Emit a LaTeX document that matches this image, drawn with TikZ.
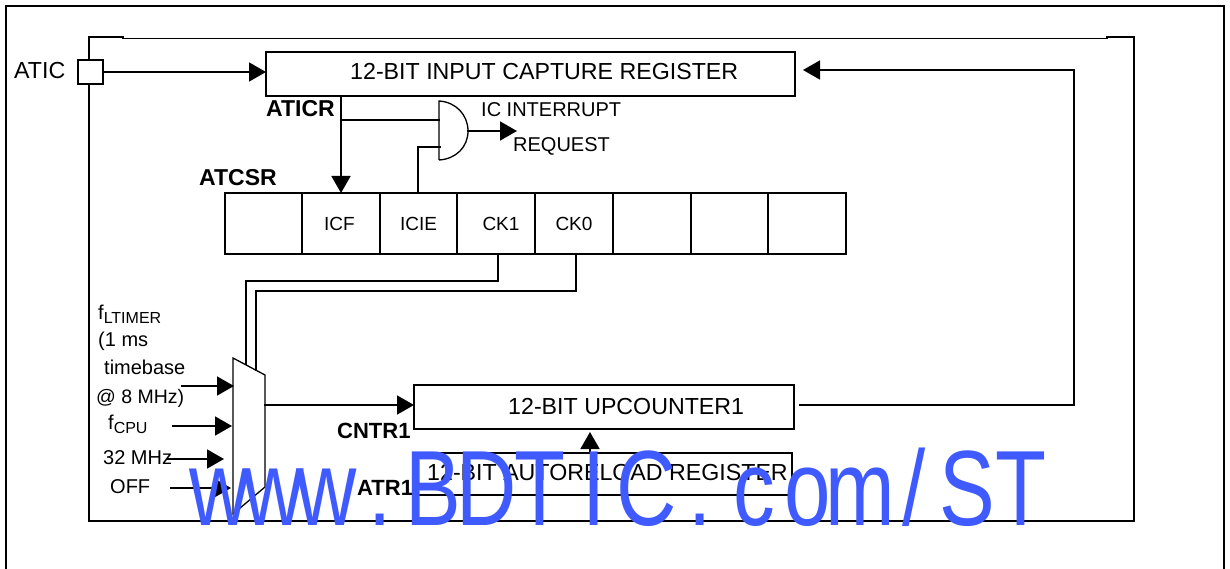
\documentclass[tikz,border=0pt]{standalone}
\usepackage{fontspec}
\setmainfont{Liberation Sans}
\newfontfamily\wmfont[FakeStretch=0.78]{Liberation Sans}
\usetikzlibrary{arrows.meta}
\newcommand{\fs}[1]{\fontsize{#1}{#1}\selectfont}
\newcommand{\wc}[1]{\makebox[53.4pt]{#1}}
\definecolor{wmblue}{HTML}{3F5BFF}
\tikzset{
  x=1pt,y=-1pt,
  wire/.style={line width=1.7pt,line cap=rect},
  arr/.style={wire,-{Triangle[length=17pt,width=19pt]}},
  box/.style={draw,line width=1.7pt,anchor=north west,inner sep=0pt,outer sep=0pt},
  cell/.style={box,minimum height=61pt,font=\fs{19}},
  lbl/.style={anchor=west,inner sep=0pt,font=\fs{23.2}},
  slbl/.style={anchor=west,inner sep=0pt,font=\fs{20}},
  blbl/.style={anchor=west,inner sep=0pt,font=\fs{23}\bfseries},
  thin line/.style={draw,line width=1.3pt},
}
\begin{document}
\begin{tikzpicture}
\useasboundingbox (0,0) rectangle (1230,569);
% frames
\draw[line width=1.7pt] (6,575) -- (6,6) -- (1224,6) -- (1224,575);
\coordinate (ftl) at (89,37);
\coordinate (fstep) at (123,38.5);
\coordinate (fend) at (1107,38.5);
\coordinate (ftr) at (1134,37);
\coordinate (fbr) at (1134,521);
\coordinate (fbl) at (89,521);
\draw[wire] (fbl) -- (ftl) -- (123,37);
\draw[wire] (fstep) -- (fend);
\draw[wire] (1107,37) -- (ftr) -- (fbr) -- (fbl);
% pin
\node[box,fill=white,minimum width=25pt,minimum height=24pt] (pin) at (78,60) {};
\node[lbl] (aticl) at (14,71) {ATIC};
% registers
\node[box,minimum width=529pt,minimum height=44pt] (icr) at (266,52) {};
\node[lbl] (icrt) at (350,72) {12-BIT INPUT CAPTURE REGISTER};
\node[box,minimum width=380pt,minimum height=44pt] (upc) at (414,385) {};
\node[lbl] (upct) at (508,407) {12-BIT UPCOUNTER1};
\node[box,minimum width=378pt,minimum height=42pt] (arr1) at (414,453) {};
\node[lbl] (arrt) at (427,473) {12-BIT AUTORELOAD REGISTER};
% status register
\node[cell,minimum width=77pt] (c0) at (225,193) {};
\node[cell,minimum width=78pt] (c1) at (302,193) {\hspace{-3pt}ICF};
\node[cell,minimum width=77pt] (c2) at (380,193) {ICIE};
\node[cell,minimum width=78pt] (c3) at (457,193) {\hspace{10pt}CK1};
\node[cell,minimum width=78pt] (c4) at (535,193) {CK0};
\node[cell,minimum width=78pt] (c5) at (613,193) {};
\node[cell,minimum width=77pt] (c6) at (691,193) {};
\node[cell,minimum width=78pt] (c7) at (768,193) {};
% labels
\node[blbl] (aticr) at (266,109) {ATICR};
\node[blbl] (atcsr) at (199,178) {ATCSR};
\node[blbl] (cntr) at (337,431) {\fs{22}CNTR1};
\node[blbl] (atr) at (357,488) {\fs{22}ATR1};
\node[slbl] (irq1) at (481,110) {IC INTERRUPT};
\node[slbl] (irq2) at (513,146) {REQUEST};
\node[slbl] (f1) at (98,314) {f\raisebox{-4pt}{\fs{16}LTIMER}};
\node[slbl] (f2) at (98,341) {(1 ms};
\node[slbl] (f3) at (104,367) {timebase};
\node[slbl] (f4) at (96,398) {\fs{19.5}@ 8 MHz)};
\node[slbl] (f5) at (108,424) {f\raisebox{-4pt}{\fs{16}CPU}};
\node[slbl] (f6) at (103,458) {32 MHz};
\node[slbl] (f7) at (110,487) {OFF};
% AND gate
\coordinate (gt) at (439,101);
\coordinate (gb) at (439,160);
\coordinate (gout) at (468,131);
\draw[thin line] (gb) -- (gt) .. controls (456,102) and (468,115) .. (gout) .. controls (468,147) and (456,159) .. (gb);
\coordinate (girq) at (517,131);
\draw[arr] (gout) -- (girq);
% capture flag
\coordinate (j1) at (341,120);
\coordinate (i1) at (439,120);
\draw[arr] (icr.south -| j1) -- (c1.north -| j1);
\draw[wire] (j1) -- (i1);
\coordinate (k1) at (418,147);
\coordinate (i2) at (440,147);
\draw[wire] (c2.north -| k1) -- (k1) -- (i2);
% mux
\coordinate (ma) at (233,358);
\coordinate (mb) at (265,375);
\coordinate (mc) at (265,487);
\coordinate (md) at (233,514);
\draw[thin line,fill=white] (ma) -- (mb) -- (mc) -- (md) -- cycle;
% selects
\coordinate (s1a) at (498,281);
\coordinate (s1b) at (246,281);
\coordinate (s1c) at (246,364);
\draw[wire] (c3.south -| s1a) -- (s1a) -- (s1b) -- (s1c);
\coordinate (s2a) at (576,291);
\coordinate (s2b) at (256,291);
\coordinate (s2c) at (256,370);
\draw[wire] (c4.south -| s2a) -- (s2a) -- (s2b) -- (s2c);
% mux inputs
\coordinate (n1) at (182,386);\coordinate (m1) at (234,386);
\coordinate (n2) at (173,426);\coordinate (m2) at (232,426);
\coordinate (n3) at (168,459);\coordinate (m3) at (224,459);
\coordinate (n4) at (171,488);\coordinate (m4) at (231,488);
\draw[arr] (n1) -- (m1);
\draw[arr] (n2) -- (m2);
\draw[arr] (n3) -- (m3);
\draw[arr] (n4) -- (m4);
% mux output
\coordinate (mo) at (265,405);
\draw[arr] (mo) -- (upc.west |- mo);
% pin to capture
\draw[arr] (pin.east) -- (icr.west |- pin.east);
% feedback
\coordinate (ub) at (800,405);
\coordinate (uc) at (1074,405);
\coordinate (ud) at (1074,70);
\coordinate (ue) at (803,70);
\draw[arr] (ub) -- (uc) -- (ud) -- (ue);
% autoreload
\coordinate (al) at (590,453);
\coordinate (ar) at (590,432);
\draw[arr] (al) -- (ar);
% watermark
\node[anchor=base west,inner sep=0pt,text=wmblue,font=\wmfont\fs{107}] (wm) at (193,525)
  {\wc{w}\wc{w}\wc{w}\wc{.}\wc{B}\wc{D}\wc{T}\wc{I}\wc{C}\wc{.}\wc{c}\wc{o}\wc{m}\wc{/}\wc{S}\wc{T}};
\end{tikzpicture}
\end{document}
